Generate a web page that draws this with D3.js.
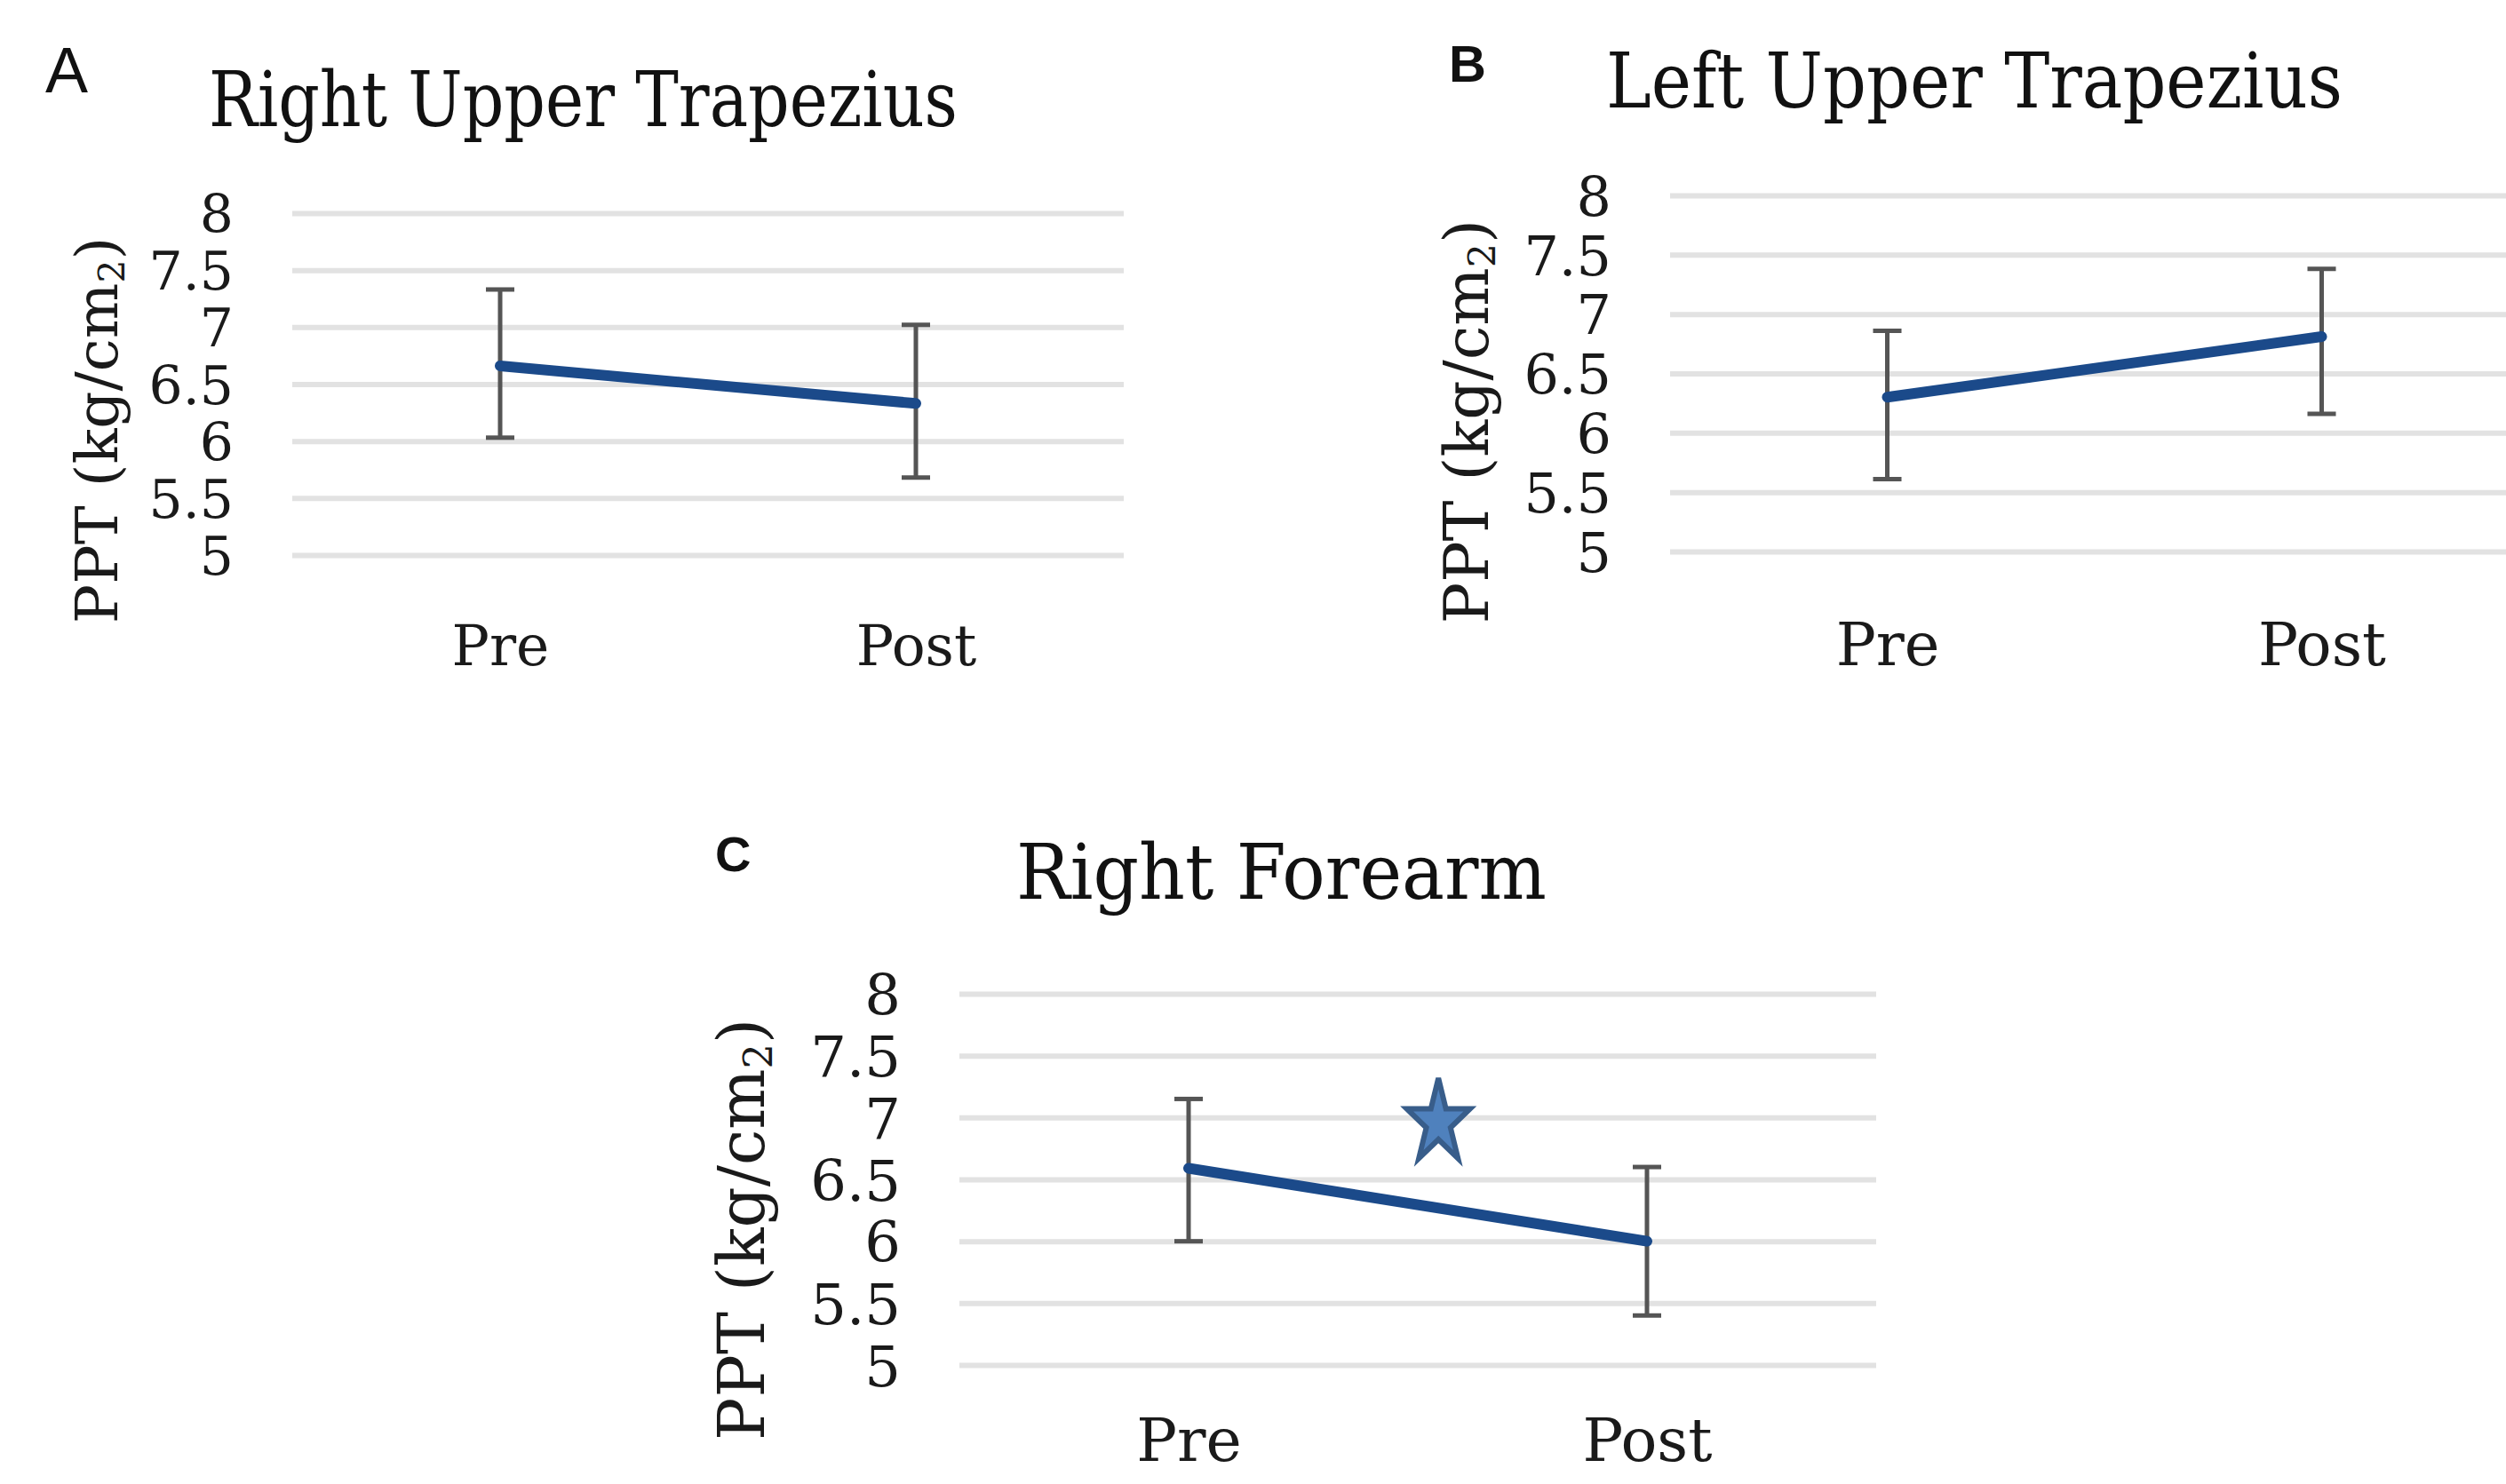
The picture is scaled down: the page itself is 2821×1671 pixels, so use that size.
<!DOCTYPE html>
<html>
<head>
<meta charset="utf-8">
<script src="https://cdn.jsdelivr.net/npm/d3@7"></script>
<style>
  body { margin: 0; background: #fff; }
  svg { display: block; }
</style>
</head>
<body>
<script>
// values
const categories = ["Pre", "Post"]
const yTicks = [5, 5.5, 6, 6.5, 7, 7.5, 8]
const titles = ["Right Upper Trapezius", "Left Upper Trapezius", "Right Forearm"]
const letters = ["A", "B", "C"]

const meanA = [6.66, 6.33]
const upperA = [7.33, 7.02]
const lowerA = [6.03, 5.68]

const meanB = [6.30, 6.81]
const upperB = [6.86, 7.38]
const lowerB = [5.61, 6.16]

const meanC = [6.59, 6.00]
const upperC = [7.15, 6.60]
const lowerC = [6.00, 5.40]

// significance star on panel C (fraction of the way Pre -> Post, value)
const starAt = 0.545
const starValue = 6.96

const W = 2821, H = 1671
const serif = "'DejaVu Serif', serif"

const svg = d3.select("body").append("svg")
    .attr("width", W)
    .attr("height", H)

// layout of each panel (pixels)
const panels = [
    { mean: meanA, upper: upperA, lower: lowerA, x0: 329, x1: 1265, y5: 625, y8: 240,
      tickSize: 60, yTitleSize: 66, yTitleX: 132, xLabSize: 63, xLabPad: 79,
      title: { x: 235, y: 142, len: 843 }, letter: { x: 51, y: 104, size: 72, bold: false } },
    { mean: meanB, upper: upperB, lower: lowerB, x0: 1880, x1: 2858, y5: 621, y8: 220,
      tickSize: 62, yTitleX: 1675, yTitleSize: 69, xLabSize: 67, xLabPad: 80,
      title: { x: 1808, y: 121, len: 829 }, letter: { x: 1631, y: 92, size: 58, bold: true } },
    { mean: meanC, upper: upperC, lower: lowerC, x0: 1080, x1: 2112, y5: 1537, y8: 1119,
      tickSize: 64, yTitleX: 860, yTitleSize: 72, xLabSize: 68, xLabPad: 60,
      title: { x: 1144, y: 1012, len: 597 }, letter: { x: 805, y: 981, size: 56, bold: true } }
]

panels.forEach((p, i) => {
    const g = svg.append("g")

    const x = d3.scalePoint()
        .domain(categories)
        .range([p.x0, p.x1])
        .padding(0.5)

    const y = d3.scaleLinear()
        .domain([5, 8])
        .range([p.y5, p.y8])

    // y axis with gridlines
    const yAxis = g.append("g")
        .attr("transform", `translate(${p.x0},0)`)
        .call(d3.axisLeft(y)
            .tickValues(yTicks)
            .tickFormat(d => String(d))
            .tickSize(-(p.x1 - p.x0))
            .tickPadding(66))
    yAxis.select(".domain").remove()
    yAxis.selectAll(".tick line")
        .attr("stroke", "#e2e2e2")
        .attr("stroke-width", 6)
    yAxis.selectAll(".tick text")
        .attr("font-family", serif)
        .attr("font-size", p.tickSize)
        .attr("fill", "#1a1a1a")
        .attr("dy", "0.36em")

    // x axis labels
    const xAxis = g.append("g")
        .attr("transform", `translate(0,${p.y5})`)
        .call(d3.axisBottom(x).tickSize(0).tickPadding(p.xLabPad))
    xAxis.select(".domain").remove()
    xAxis.selectAll(".tick text")
        .attr("font-family", serif)
        .attr("font-size", p.xLabSize)
        .attr("fill", "#1a1a1a")

    // y axis title
    const yMid = (p.y5 + p.y8) / 2 + 52 * (p.y5 - p.y8) / 385
    const yt = g.append("text")
        .attr("transform", `translate(${p.yTitleX},${yMid}) rotate(-90)`)
        .attr("text-anchor", "middle")
        .attr("font-family", serif)
        .attr("font-size", p.yTitleSize)
        .attr("fill", "#1a1a1a")
    yt.append("tspan").text("PPT (kg/cm")
    yt.append("tspan").text("2").attr("font-size", p.yTitleSize * 0.62).attr("dy", p.yTitleSize * 0.12)
    yt.append("tspan").text(")").attr("dy", -p.yTitleSize * 0.12)

    // chart title
    g.append("text")
        .attr("x", p.title.x)
        .attr("y", p.title.y)
        .attr("font-family", serif)
        .attr("font-size", 86)
        .attr("fill", "#111")
        .attr("textLength", p.title.len)
        .attr("lengthAdjust", "spacingAndGlyphs")
        .text(titles[i])

    // panel letter
    g.append("text")
        .attr("x", p.letter.x)
        .attr("y", p.letter.y)
        .attr("font-family", "'Liberation Sans', Arial, sans-serif")
        .attr("font-weight", p.letter.bold ? "bold" : "normal")
        .attr("font-size", p.letter.size)
        .attr("fill", "#111")
        .text(letters[i])

    // error bars
    const bars = g.append("g")
        .attr("stroke", "#555")
        .attr("stroke-width", 5)
    categories.forEach((c, j) => {
        const cx = x(c)
        bars.append("line")
            .attr("x1", cx).attr("x2", cx)
            .attr("y1", y(p.upper[j])).attr("y2", y(p.lower[j]))
        bars.append("line")
            .attr("x1", cx - 16).attr("x2", cx + 16)
            .attr("y1", y(p.upper[j])).attr("y2", y(p.upper[j]))
        bars.append("line")
            .attr("x1", cx - 16).attr("x2", cx + 16)
            .attr("y1", y(p.lower[j])).attr("y2", y(p.lower[j]))
    })

    // mean line
    const line = d3.line()
        .x((d, j) => x(categories[j]))
        .y(d => y(d))
    g.append("path")
        .datum(p.mean)
        .attr("d", line)
        .attr("fill", "none")
        .attr("stroke", "#1b4a8a")
        .attr("stroke-width", 12)
        .attr("stroke-linecap", "round")

    // star marker on panel C
    if (i === 2) {
        const sx = x("Pre") + starAt * (x("Post") - x("Pre"))
        const sy = y(starValue)
        const R = 50, r = R * 0.382
        const pts = d3.range(10).map(k => {
            const a = -Math.PI / 2 + k * Math.PI / 5
            const rr = k % 2 === 0 ? R : r
            return [rr * Math.cos(a) * 0.75, rr * Math.sin(a)]
        })
        g.append("path")
            .attr("transform", `translate(${sx},${sy})`)
            .attr("d", d3.line()(pts) + "Z")
            .attr("fill", "#4f81bd")
            .attr("stroke", "#385d8a")
            .attr("stroke-width", 6)
            .attr("stroke-linejoin", "miter")
    }
})
</script>
</body>
</html>
